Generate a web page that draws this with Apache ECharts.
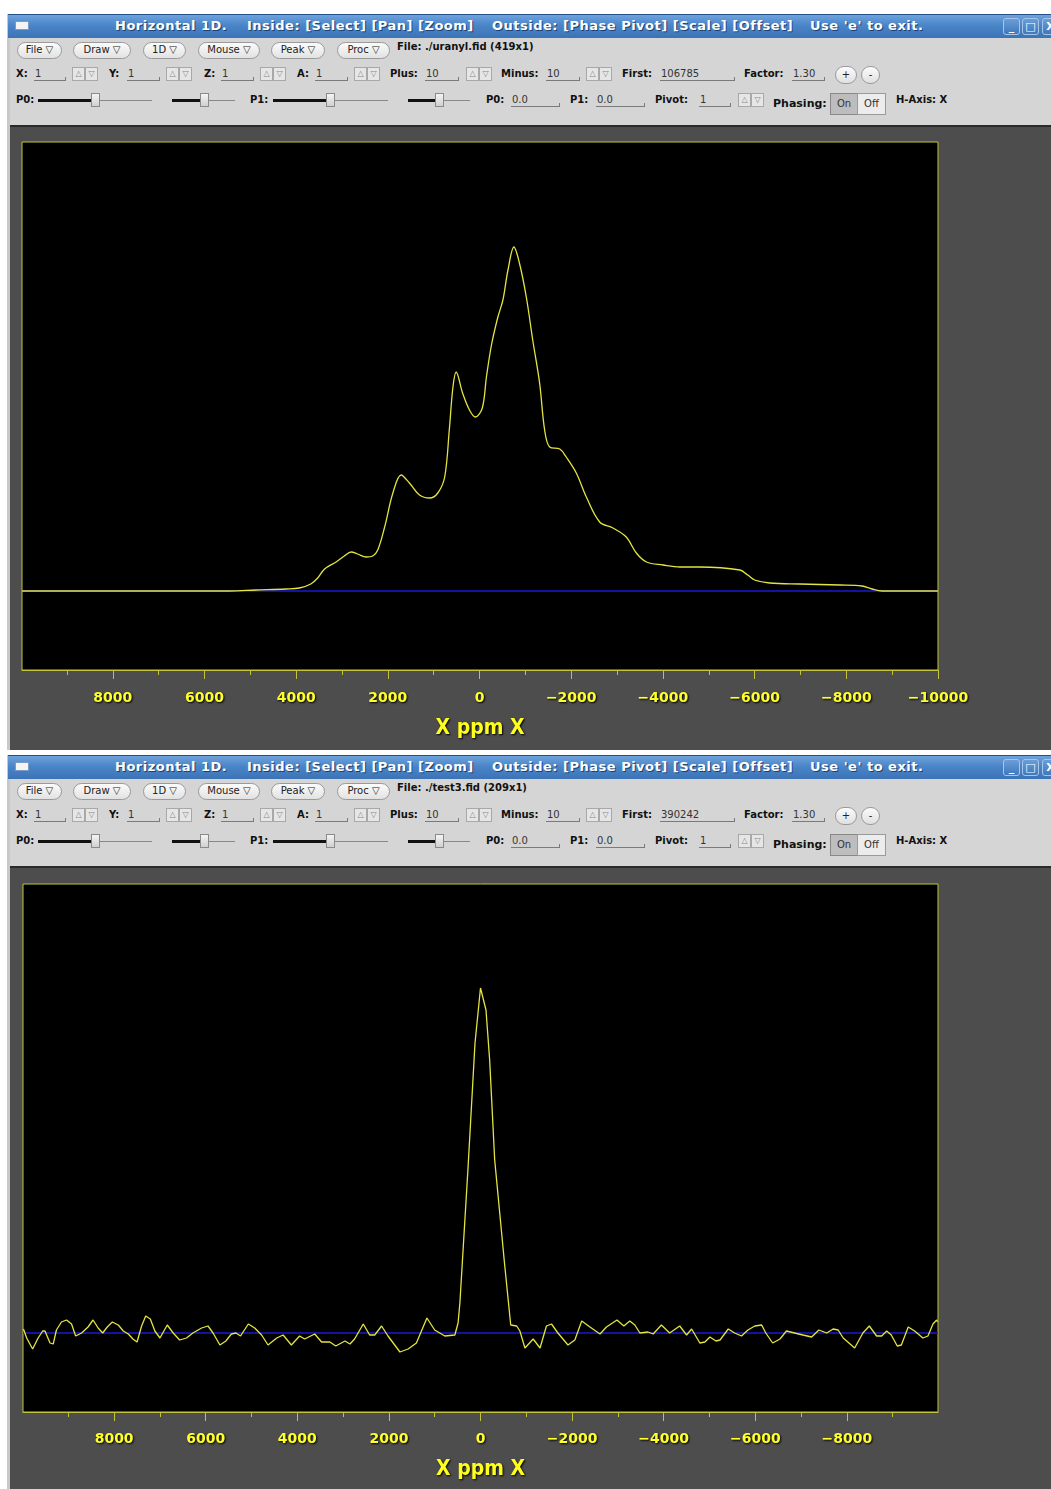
<!DOCTYPE html>
<html>
<head>
<meta charset="utf-8">
<script src="https://cdn.jsdelivr.net/npm/echarts@6/dist/echarts.min.js"></script>
<style>
  body { margin: 0; background: #fff; width: 1051px; height: 1489px; overflow: hidden; position: relative; font-family: "DejaVu Sans", sans-serif; }
  .abs { position: absolute; white-space: pre; box-sizing: border-box; }
  .frame { background: #c9c9c9; }
  .title { background: linear-gradient(#6ea2dc, #4a85c8 45%, #3b73b6); border-top: 1px solid #25508a; }
  .tt { color: #fff; font-weight: bold; font-size: 13px; letter-spacing: 0.5px; line-height: 15px; text-shadow: 1px 1px 0 #1d3f6e; }
  .ticon { background: #f4f4f4; border: 1px solid #7a9cc4; }
  .tbtn { border: 1px solid #a8c4e6; border-radius: 3px; background: linear-gradient(#6b9ed8, #3f78bc); color: #fff; font-size: 11px; font-weight: bold; text-align: center; line-height: 15px; }
  .tool { background: #d5d5d5; }
  .dark { background: #4d4d4d; border-top: 2px solid #2a2a2a; }
  .menu { border: 1px solid #9a9a9a; border-radius: 9px; background: linear-gradient(#fbfbfb, #e2e2e2); font-size: 10px; text-align: center; line-height: 14px; color: #222; }
  .lbl { font-size: 10px; font-weight: bold; color: #111; line-height: 12px; }
  .val { font-size: 10px; color: #333; line-height: 12px; }
  .ul { height: 1px; background: #7a7a7a; }
  .spin { border: 1px solid #a8a8a8; background: #e6e6e6; font-size: 8px; color: #888; line-height: 12px; text-align: center; }
  .rbtn { border: 1px solid #9a9a9a; border-radius: 10px; background: linear-gradient(#fbfbfb, #e0e0e0); font-size: 10px; text-align: center; line-height: 16px; color: #222; }
  .track1 { height: 3px; background: #111; }
  .track2 { height: 1px; background: #888; }
  .thumb { border: 1px solid #8a8a8a; background: linear-gradient(#f4f4f4, #d0d0d0); }
  .tog { border: 1px solid #9a9a9a; font-size: 10px; text-align: center; line-height: 20px; color: #333; }
</style>
</head>
<body>
<div id="plotTop" class="abs" style="left:0;top:126px;width:1051px;height:624px;z-index:5"></div>
<div id="plotBottom" class="abs" style="left:0;top:867px;width:1051px;height:622px;z-index:5"></div>
<script>
// ---- spectrum 1: uranyl.fid (ppm, relative intensity)
var topPpm = [9980, 5460, 4880, 4220, 3930, 3680, 3530, 3380, 3130, 2950,
  2800, 2660, 2470, 2330, 2220, 2070, 1890, 1710, 1530, 1310,
  1090, 910, 760, 660, 580, 510, 370, 220, 90, -60,
  -150, -260, -400, -510, -620, -750, -870, -1020, -1160, -1310,
  -1420, -1530, -1750, -1890, -2110, -2330, -2620, -2910, -3200, -3420,
  -3640, -4000, -4370, -4800, -5680, -5850, -6000, -6330, -6990, -7860,
  -8340, -8560, -8780, -10000];
var topInt = [0, 0, 1, 2, 3, 7, 13, 22, 29, 35,
  39, 37, 34, 35, 41, 64, 98, 116, 108, 96,
  93, 98, 114, 161, 204, 219, 198, 181, 174, 183,
  214, 246, 274, 291, 321, 344, 328, 294, 251, 208,
  161, 144, 142, 134, 118, 94, 69, 63, 54, 38,
  29, 26, 24, 24, 21, 16, 11, 8, 7, 6,
  5, 2, 0, 0];

// ---- spectrum 2: test3.fid
var botPpm = [9980, 9910, 9780, 9660, 9560, 9510, 9400, 9330, 9260, 9150,
  9040, 8930, 8840, 8710, 8570, 8460, 8350, 8250, 8150, 8040,
  7910, 7800, 7690, 7590, 7500, 7400, 7310, 7210, 7110, 7000,
  6840, 6710, 6570, 6420, 6280, 6090, 5950, 5840, 5690, 5560,
  5440, 5340, 5240, 5070, 4930, 4780, 4640, 4450, 4310, 4130,
  3950, 3840, 3620, 3470, 3290, 3160, 2960, 2850, 2750, 2560,
  2420, 2310, 2160, 2020, 1760, 1580, 1400, 1170, 1000, 780,
  560, 490, 450, 270, 120, 0, -120, -200, -310, -530,
  -660, -790, -860, -970, -1150, -1300, -1440, -1550, -1690, -1910,
  -2060, -2210, -2390, -2610, -2750, -2980, -3130, -3260, -3370, -3480,
  -3660, -3770, -3950, -4130, -4350, -4500, -4610, -4790, -4900, -5010,
  -5140, -5230, -5410, -5550, -5700, -5840, -5990, -6140, -6230, -6380,
  -6540, -6680, -6860, -7040, -7230, -7390, -7560, -7700, -7810, -7920,
  -8170, -8350, -8490, -8650, -8760, -8870, -8970, -9100, -9190, -9340,
  -9480, -9660, -9770, -9880, -9960, -9980];
var botInt = [4, -5, -16, -5, 2, 2, -10, -11, 3, 11,
  13, 9, -3, 0, 6, 13, 5, 0, 6, 11,
  8, 2, -1, -6, -9, 7, 17, 14, 2, -5,
  8, 0, -7, -5, 0, 5, 7, 0, -12, -8,
  -1, 0, -3, 9, 5, -2, -12, -5, -2, -12,
  -3, -6, -1, -9, -9, -13, -8, -11, -6, 9,
  -2, -2, 7, -3, -19, -16, -10, 15, 3, -3,
  -2, 10, 30, 167, 290, 345, 323, 273, 173, 67,
  8, 7, 2, -15, -6, -15, 7, 9, 0, -12,
  -7, 12, 6, -1, 6, 13, 7, 12, 8, 0,
  1, -1, 8, 0, 7, -2, 4, -10, -9, -4,
  -8, -7, 4, 0, -3, 3, 7, 8, 0, -10,
  -6, 2, 0, -2, -4, 3, 0, 4, 3, -5,
  -15, 0, 7, -3, -3, 2, -2, -13, -12, 6,
  2, -5, -3, 9, 13, 11];

// tick labels / tick positions
var topMajor = [-10000, -8000, -6000, -4000, -2000, 0, 2000, 4000, 6000, 8000];
var topMinor = [-9000, -7000, -5000, -3000, -1000, 1000, 3000, 5000, 7000, 9000];
var botMajor = [-8000, -6000, -4000, -2000, 0, 2000, 4000, 6000, 8000];
var botMinor = [-9000, -7000, -5000, -3000, -1000, 1000, 3000, 5000, 7000, 9000];

var YELLOW = '#e4e442';
var BORDER = '#c4c43a';

// ---------------- window chrome ----------------
function box(x, y, w, h, cls, text, extra) {
  var d = document.createElement('div');
  d.className = 'abs ' + (cls || '');
  d.style.left = x + 'px';
  d.style.top = y + 'px';
  if (w != null) d.style.width = w + 'px';
  if (h != null) d.style.height = h + 'px';
  if (text != null) d.textContent = text;
  if (extra) Object.assign(d.style, extra);
  document.body.appendChild(d);
  return d;
}

function slider(x1, x2, thumb, yc) {
  box(x1, yc - 1, thumb - x1, null, 'track1');
  box(thumb, yc, x2 - thumb, null, 'track2');
  box(thumb - 4, yc - 7, 9, 14, 'thumb');
}

function field(val, x1, x2, yc) {
  box(x1 + 1, yc - 6, null, null, 'val', val);
  box(x1, yc + 6, x2 - x1, null, 'ul');
  box(x2 - 1, yc + 3, 1, 4, '', null, { background: '#7a7a7a' });
}

function spinner(x, yc) {
  box(x, yc - 7, 13, 14, 'spin', '△');
  box(x + 13, yc - 7, 13, 14, 'spin', '▽');
}

function drawWindow(y0, y1, fileText, firstVal) {
  box(7, y0, 1060, y1 - y0, 'frame');
  box(8, y0, 1060, 24, 'title');
  box(15, y0 + 7, 14, 9, 'ticon');
  box(115, y0 + 4, null, null, 'tt', 'Horizontal 1D.');
  box(247, y0 + 4, null, null, 'tt', 'Inside: [Select] [Pan] [Zoom]');
  box(492, y0 + 4, null, null, 'tt', 'Outside: [Phase Pivot] [Scale] [Offset]');
  box(810, y0 + 4, null, null, 'tt', "Use 'e' to exit.");
  box(1003, y0 + 4, 17, 17, 'tbtn', '_');
  box(1022, y0 + 4, 17, 17, 'tbtn', '□');
  box(1042, y0 + 4, 17, 17, 'tbtn', 'X');
  box(10, y0 + 24, 1060, 87, 'tool');
  box(10, y0 + 111, 1060, y1 - y0 - 111, 'dark');

  var r1 = y0 + 36, r2 = y0 + 60, r3 = y0 + 86;
  [['File', 17, 62], ['Draw', 73, 131], ['1D', 143, 186], ['Mouse', 198, 260], ['Peak', 271, 325], ['Proc', 337, 390]]
    .forEach(function (m) { box(m[1], r1 - 8, m[2] - m[1], 17, 'menu', m[0] + ' ▽'); });
  box(397, r1 - 9, null, null, 'lbl', fileText);

  [['X:', 16], ['Y:', 109], ['Z:', 204], ['A:', 297], ['Plus:', 390], ['Minus:', 501], ['First:', 622], ['Factor:', 744]]
    .forEach(function (l) { box(l[1], r2 - 6, null, null, 'lbl', l[0]); });
  [['1', 34, 66], ['1', 127, 160], ['1', 221, 254], ['1', 315, 348], ['10', 425, 459], ['10', 546, 580], [firstVal, 660, 735], ['1.30', 792, 825]]
    .forEach(function (f) { field(f[0], f[1], f[2], r2); });
  [72, 166, 260, 354, 466, 586].forEach(function (x) { spinner(x, r2); });
  box(835, r2 - 8, 22, 18, 'rbtn', '+');
  box(861, r2 - 8, 19, 18, 'rbtn', '-');

  box(16, r3 - 6, null, null, 'lbl', 'P0:');
  slider(38, 152, 95, r3);
  slider(172, 235, 204, r3);
  box(250, r3 - 6, null, null, 'lbl', 'P1:');
  slider(273, 388, 330, r3);
  slider(408, 470, 439, r3);
  box(486, r3 - 6, null, null, 'lbl', 'P0:');
  field('0.0', 511, 560, r3);
  box(570, r3 - 6, null, null, 'lbl', 'P1:');
  field('0.0', 596, 645, r3);
  box(655, r3 - 6, null, null, 'lbl', 'Pivot:');
  field('1', 699, 731, r3);
  spinner(738, r3);
  box(773, r3 - 2, null, null, 'lbl', 'Phasing:', { fontSize: '11px' });
  box(830, r3 - 7, 28, 22, 'tog', 'On', { background: '#bdbdbd', borderColor: '#888' });
  box(857, r3 - 7, 29, 22, 'tog', 'Off', { background: '#ececec' });
  box(896, r3 - 6, null, null, 'lbl', 'H-Axis: X');
}

drawWindow(14, 750, 'File: ./uranyl.fid (419x1)', '106785');
drawWindow(755, 1489, 'File: ./test3.fid (209x1)', '390242');

// ---------------- charts ----------------
function fmt(v) { return v < 0 ? '\u2212' + (-v) : String(v); }

function zip(xs, ys) { return xs.map(function (x, i) { return [x, ys[i]]; }); }

function makeOption(gridTop, gridLeft, gridWidth, xmin, xmax, major, minor, xs, ys, smooth, greyEnds, nameGap, labelMargin) {
  var axisBase = {
    type: 'value', min: xmin, max: xmax, inverse: true, gridIndex: 0, position: 'bottom',
    splitLine: { show: false }
  };
  var opt = {
    animation: false,
    backgroundColor: 'transparent',
    grid: {
      left: gridLeft, top: gridTop, width: gridWidth, height: 528,
      show: true, backgroundColor: '#000', borderColor: BORDER, borderWidth: 1
    },
    xAxis: [
      Object.assign({}, axisBase, {
        name: 'X ppm X', nameLocation: 'middle', nameGap: nameGap,
        nameTextStyle: { color: '#ffff1e', fontSize: 21, fontWeight: 'bold', fontFamily: 'DejaVu Sans Condensed',
          textShadowColor: '#000', textShadowBlur: 2, textShadowOffsetX: 1, textShadowOffsetY: 1 },
        axisLine: { show: true, onZero: false, lineStyle: { color: BORDER, width: 1 } },
        axisTick: { show: true, length: 9, customValues: major, lineStyle: { color: BORDER } },
        axisLabel: {
          customValues: major, margin: labelMargin, formatter: fmt,
          color: '#ffff2a', fontSize: 14, fontWeight: 'bold', fontFamily: 'DejaVu Sans',
          textShadowColor: '#000', textShadowBlur: 2, textShadowOffsetX: 1, textShadowOffsetY: 1
        }
      }),
      Object.assign({}, axisBase, {
        axisLine: { show: false, onZero: false },
        axisTick: { show: true, length: 5, customValues: minor, lineStyle: { color: BORDER } },
        axisLabel: { show: false }
      })
    ],
    yAxis: { type: 'value', min: -79, max: 449, show: false },
    series: [
      {
        type: 'line', data: [], z: 1, silent: true,
        markLine: {
          z: 1, silent: true, symbol: ['none', 'none'], label: { show: false },
          lineStyle: { color: '#1a1ad2', width: 1.5, type: 'solid' },
          data: [{ yAxis: 0 }]
        }
      },
      {
        type: 'line', data: zip(xs, ys), z: 3, showSymbol: false, smooth: smooth,
        lineStyle: { color: YELLOW, width: 1.3 }
      }
    ]
  };
  if (greyEnds) {
    opt.visualMap = {
      type: 'piecewise', show: false, seriesIndex: 1, dimension: 0,
      pieces: [{ gt: -8750, lte: 4600, color: YELLOW }],
      outOfRange: { color: '#d4d4d4' }
    };
  }
  return opt;
}

var c1 = echarts.init(document.getElementById('plotTop'));
c1.setOption(makeOption(16, 22, 916, -10000, 9980, topMajor, topMinor, topPpm, topInt, 0.35, true, 48, 21));

var c2 = echarts.init(document.getElementById('plotBottom'));
c2.setOption(makeOption(17, 23, 915, -9990, 9990, botMajor, botMinor, botPpm, botInt, false, false, 47, 20));
</script>
</body>
</html>
